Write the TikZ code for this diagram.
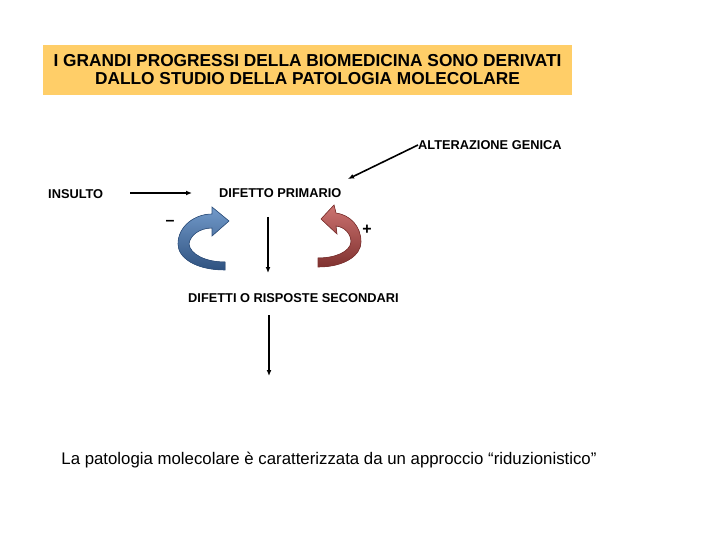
\documentclass[tikz,border=0pt]{standalone}
\usepackage{fontspec}
\setmainfont{Liberation Sans}
\usepackage{xcolor}
\definecolor{titleorange}{RGB}{255,206,104}
\definecolor{arrblue}{RGB}{79,129,189}
\definecolor{arrbluedk}{RGB}{47,82,128}
\definecolor{arrred}{RGB}{192,80,77}
\definecolor{arrreddk}{RGB}{128,50,48}
\usepackage{tikz}
\usetikzlibrary{arrows.meta, positioning}

\begin{document}
\begin{tikzpicture}[x=1pt, y=-1pt,
  lbl/.style={font=\fontsize{12.8}{14}\selectfont\bfseries, inner sep=0pt},
  flow/.style={line width=1.6pt, -{Latex[length=6pt,width=5pt]}},
  titlebox/.style={fill=titleorange, inner sep=0pt, minimum width=529pt, minimum height=50pt,
    align=center, font=\fontsize{17.3}{18}\selectfont\bfseries}]
  \useasboundingbox (0,0) rectangle (720,540);

  % --- Title ---
  \node[titlebox] (title) at (307.5,70) {I GRANDI PROGRESSI DELLA BIOMEDICINA SONO DERIVATI\\DALLO STUDIO DELLA PATOLOGIA MOLECOLARE};

  % --- Labels ---
  \node[lbl, anchor=west] (alter) at (418,145) {ALTERAZIONE GENICA};
  \node[lbl, anchor=west] (insulto) at (48,194) {INSULTO};
  \node[lbl, anchor=west] (primario) at (219,193) {DIFETTO PRIMARIO};
  \node[lbl, anchor=west] (secondari) at (188,298) {DIFETTI O RISPOSTE SECONDARI};
  \node[font=\fontsize{16.8}{18}\selectfont, anchor=base] (approccio) at (329,464)
    {La patologia molecolare è caratterizzata da un approccio “riduzionistico”};

  % --- Connectors ---
  \coordinate (primhead) at (348,179);
  \coordinate (insend) at (192,193);
  \coordinate (down1a) at (268,217);
  \coordinate (down1b) at (268,273);
  \coordinate (down2a) at (269,315);
  \coordinate (down2b) at (269,376);
  \draw[flow] ([xshift=27pt]insulto.east |- insend) -- (insend);
  \draw[flow] (alter.west) -- (primhead);
  \draw[flow] (down1a) -- (down1b);
  \draw[flow] (down2a) -- (down2b);

  % --- Feedback arrows ---
  \fill[top color=arrblue!80!white, bottom color=arrbluedk, draw=arrbluedk, line width=0.6pt]
    (225,270) .. controls (196,270) and (178,258) .. (178,244)
    .. controls (178,226) and (195,214) .. (212,214) -- (212,207) -- (229,221) -- (212,236) -- (212,228)
    .. controls (200,228) and (190,235) .. (189,244)
    .. controls (190,254) and (205,262) .. (225,262) -- cycle;
  \fill[top color=arrred!80!white, bottom color=arrreddk, draw=arrreddk, line width=0.6pt]
    (318,267) .. controls (345,267) and (361,255) .. (361,242)
    .. controls (361,226) and (350,215) .. (336,213) -- (334,205) -- (321,219) -- (337,234) -- (336,226)
    .. controls (345,227) and (351,234) .. (351,242)
    .. controls (350,252) and (335,258) .. (318,258) -- cycle;
  \node[font=\fontsize{16}{18}\selectfont\bfseries, inner sep=0pt] (minus) at (170,223) {--};
  \node[font=\fontsize{16}{18}\selectfont\bfseries, inner sep=0pt] (plus) at (367,230) {+};
\end{tikzpicture}
\end{document}
